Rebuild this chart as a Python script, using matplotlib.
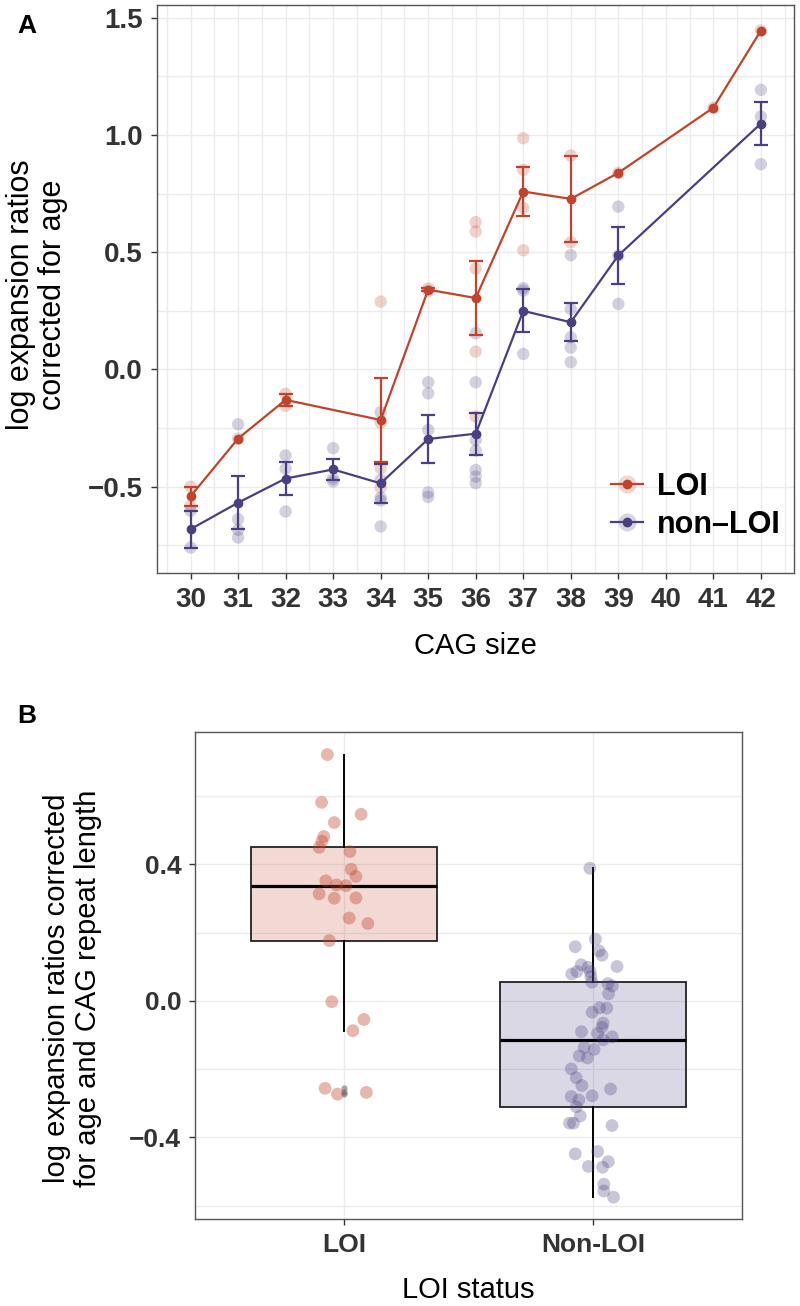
import matplotlib
matplotlib.use('Agg')
import matplotlib.pyplot as plt
from matplotlib.ticker import MultipleLocator
from matplotlib.lines import Line2D
import numpy as np
import pandas as pd

plt.rcParams['font.family'] = ['Liberation Sans', 'DejaVu Sans']

# panel A: single samples (CAG size, corrected log expansion ratio)
loi_cag = [30, 30, 31, 32, 32, 34, 34, 34, 34, 35, 35,
           36, 36, 36, 36, 36, 37, 37, 37, 37, 38, 38, 39, 41, 42]
loi_val = [-0.500, -0.582, -0.295, -0.104, -0.156, 0.289, -0.227, -0.421, -0.504, 0.345, 0.335,
           0.628, 0.588, 0.430, 0.076, -0.201, 0.986, 0.851, 0.689, 0.508, 0.912, 0.542, 0.838, 1.116, 1.445]

non_cag = [30, 30, 31, 31, 31, 31, 32, 32, 32, 33, 33, 33,
           34, 34, 34, 34, 34, 35, 35, 35, 35, 35,
           36, 36, 36, 36, 36, 36, 36, 37, 37, 37,
           38, 38, 38, 38, 38, 39, 39, 39, 42, 42, 42]
non_val = [-0.603, -0.760, -0.234, -0.639, -0.684, -0.717, -0.367, -0.423, -0.606, -0.336, -0.466, -0.478,
           -0.183, -0.471, -0.547, -0.559, -0.670, -0.055, -0.102, -0.258, -0.525, -0.544,
           0.154, -0.055, -0.301, -0.346, -0.429, -0.457, -0.485, 0.346, 0.336, 0.066,
           0.487, 0.257, 0.137, 0.093, 0.031, 0.694, 0.485, 0.279, 1.192, 1.078, 0.875]

cag_ticks = list(range(30, 43))

# panel B: residuals per LOI status, with the jitter
loi_res = [0.722, 0.582, 0.547, 0.523, 0.482, 0.468, 0.450, 0.438, 0.386, 0.365, 0.352, 0.340, 0.338,
           0.314, 0.301, 0.302, 0.243, 0.227, 0.177, -0.002, -0.054, -0.087, -0.256, -0.273, -0.268]
loi_jit = [-0.068, -0.091, 0.068, -0.040, -0.082, -0.090, -0.101, 0.023, 0.028, 0.047, -0.074, -0.031, 0.007,
           -0.101, -0.040, 0.047, 0.020, 0.095, -0.060, -0.050, 0.079, 0.035, -0.077, -0.027, 0.089]
non_res = [0.389, 0.181, 0.159, 0.147, 0.134, 0.101, 0.106, 0.086, 0.079, 0.099, 0.086, 0.071, 0.055,
           0.051, 0.044, 0.021, -0.020, -0.021, -0.033, -0.065, -0.077, -0.090, -0.095, -0.105, -0.114,
           -0.136, -0.142, -0.161, -0.167, -0.199, -0.225, -0.248, -0.258, -0.280, -0.290, -0.278, -0.310,
           -0.337, -0.358, -0.358, -0.365, -0.448, -0.441, -0.471, -0.485, -0.487, -0.537, -0.557, -0.575]
non_jit = [-0.012, 0.010, -0.071, 0.025, 0.037, 0.097, -0.047, -0.064, -0.085, -0.020, -0.011, -0.008, -0.004,
           0.060, 0.078, 0.063, 0.027, 0.056, -0.003, 0.041, 0.037, -0.046, 0.019, 0.078, 0.041,
           -0.035, 0.005, -0.055, -0.022, -0.087, -0.067, -0.044, 0.071, -0.087, -0.056, -0.003, -0.067,
           -0.051, -0.094, -0.078, 0.077, -0.071, 0.019, 0.062, -0.018, 0.039, 0.044, 0.044, 0.083]
groups = ['LOI', 'Non-LOI']

red = '#C2432B'
purple = '#4A3F80'
tick_col = '#333333'
grid_col = '#EBEBEB'

fig = plt.figure(figsize=(8, 13.06), dpi=100)
axA = fig.add_axes([0.196, 0.5613, 0.7967, 0.4349])
axB = fig.add_axes([0.2438, 0.0666, 0.6838, 0.3731])

# ---- panel A
for cag, val, col in [(loi_cag, loi_val, red), (non_cag, non_val, purple)]:
    df = pd.DataFrame({'cag': cag, 'val': val})
    axA.scatter(df.cag, df.val, s=80, color=col, alpha=0.24, edgecolors='none', zorder=2)
    st = df.groupby('cag').val.agg(['mean', 'std', 'count'])
    st['se'] = st['std'] / np.sqrt(st['count'])
    axA.plot(st.index, st['mean'], color=col, lw=1.6, marker='o', ms=6, zorder=4)
    m = st[st['count'] > 1]
    axA.errorbar(m.index, m['mean'], yerr=m['se'], fmt='none', ecolor=col, elinewidth=1.6,
                 capsize=5, capthick=1.6, zorder=3)

axA.set_xlim(29.29, 42.70)
axA.set_ylim(-0.868, 1.554)
axA.set_xticks(cag_ticks)
axA.xaxis.set_minor_locator(MultipleLocator(0.5))
axA.yaxis.set_minor_locator(MultipleLocator(0.25))
axA.set_yticks([-0.5, 0.0, 0.5, 1.0, 1.5])
axA.set_yticklabels(['\u22120.5', '0.0', '0.5', '1.0', '1.5'])
axA.grid(True, which='both', color=grid_col, lw=1.0)
axA.tick_params(which='minor', length=0)

hA = [(Line2D([], [], ls='none', marker='o', ms=13, color=red, alpha=0.22, mec='none'),
       Line2D([], [], color=red, lw=1.6, marker='o', ms=6)),
      (Line2D([], [], ls='none', marker='o', ms=13, color=purple, alpha=0.22, mec='none'),
       Line2D([], [], color=purple, lw=1.6, marker='o', ms=6))]
axA.legend(hA, ['LOI', 'non\u2013LOI'], loc='lower right', bbox_to_anchor=(1.022, 0.01),
           frameon=False, prop={'size': 22, 'weight': 'bold'}, handlelength=1.05,
           handletextpad=0.45, labelspacing=0.25)

fig.text(0.046, 0.774, 'log expansion ratios\ncorrected for age', rotation=90,
         ha='center', va='center', fontsize=22, linespacing=1.1)
axA.set_xlabel('CAG size', fontsize=21, labelpad=14)

# ---- panel B
bp = axB.boxplot([loi_res, non_res], positions=[1, 2], widths=0.75, patch_artist=True,
                 whis=1.5, showcaps=False,
                 medianprops=dict(color='black', lw=2.3),
                 boxprops=dict(edgecolor='#222222', lw=1.3),
                 whiskerprops=dict(color='black', lw=1.4),
                 flierprops=dict(marker='o', ms=4.5, mfc='#555555', mec='none', alpha=0.5))
for patch, col in zip(bp['boxes'], [red, purple]):
    patch.set_facecolor(matplotlib.colors.to_rgba(col, 0.2))
    patch.set_zorder(2)
for k in ['medians', 'whiskers']:
    for ln in bp[k]:
        ln.set_zorder(2.5)

axB.scatter(1 + np.array(loi_jit), loi_res, s=85, color=red, alpha=0.38, edgecolors='none', zorder=3)
axB.scatter(2 + np.array(non_jit), non_res, s=85, color=purple, alpha=0.3, edgecolors='none', zorder=3)

axB.set_xlim(0.4, 2.6)
axB.set_ylim(-0.639, 0.789)
axB.set_xticks([1, 2])
axB.set_xticklabels(groups)
axB.set_yticks([-0.4, 0.0, 0.4])
axB.set_yticklabels(['\u22120.4', '0.0', '0.4'])
axB.yaxis.set_minor_locator(MultipleLocator(0.2))
axB.grid(True, which='both', color=grid_col, lw=1.0)
axB.tick_params(which='minor', length=0)
axB.set_xlabel('LOI status', fontsize=21, labelpad=14)
fig.text(0.0906, 0.2435, 'log expansion ratios corrected\nfor age and CAG repeat length', rotation=90,
         ha='center', va='center', fontsize=21, linespacing=1.1)

for ax, sz in [(axA, 20), (axB, 19)]:
    ax.set_axisbelow(True)
    for sp in ax.spines.values():
        sp.set_color('#555555')
        sp.set_linewidth(1.0)
    ax.tick_params(which='major', length=4, width=1.0, color=tick_col, labelcolor=tick_col,
                   labelsize=sz, pad=6)
    for t in ax.get_xticklabels() + ax.get_yticklabels():
        t.set_fontweight('bold')

fig.text(0.022, 0.989, 'A', fontsize=19, fontweight='bold', va='top')
fig.text(0.021, 0.461, 'B', fontsize=19, fontweight='bold', va='top')

fig.savefig('out.png', dpi=100)
